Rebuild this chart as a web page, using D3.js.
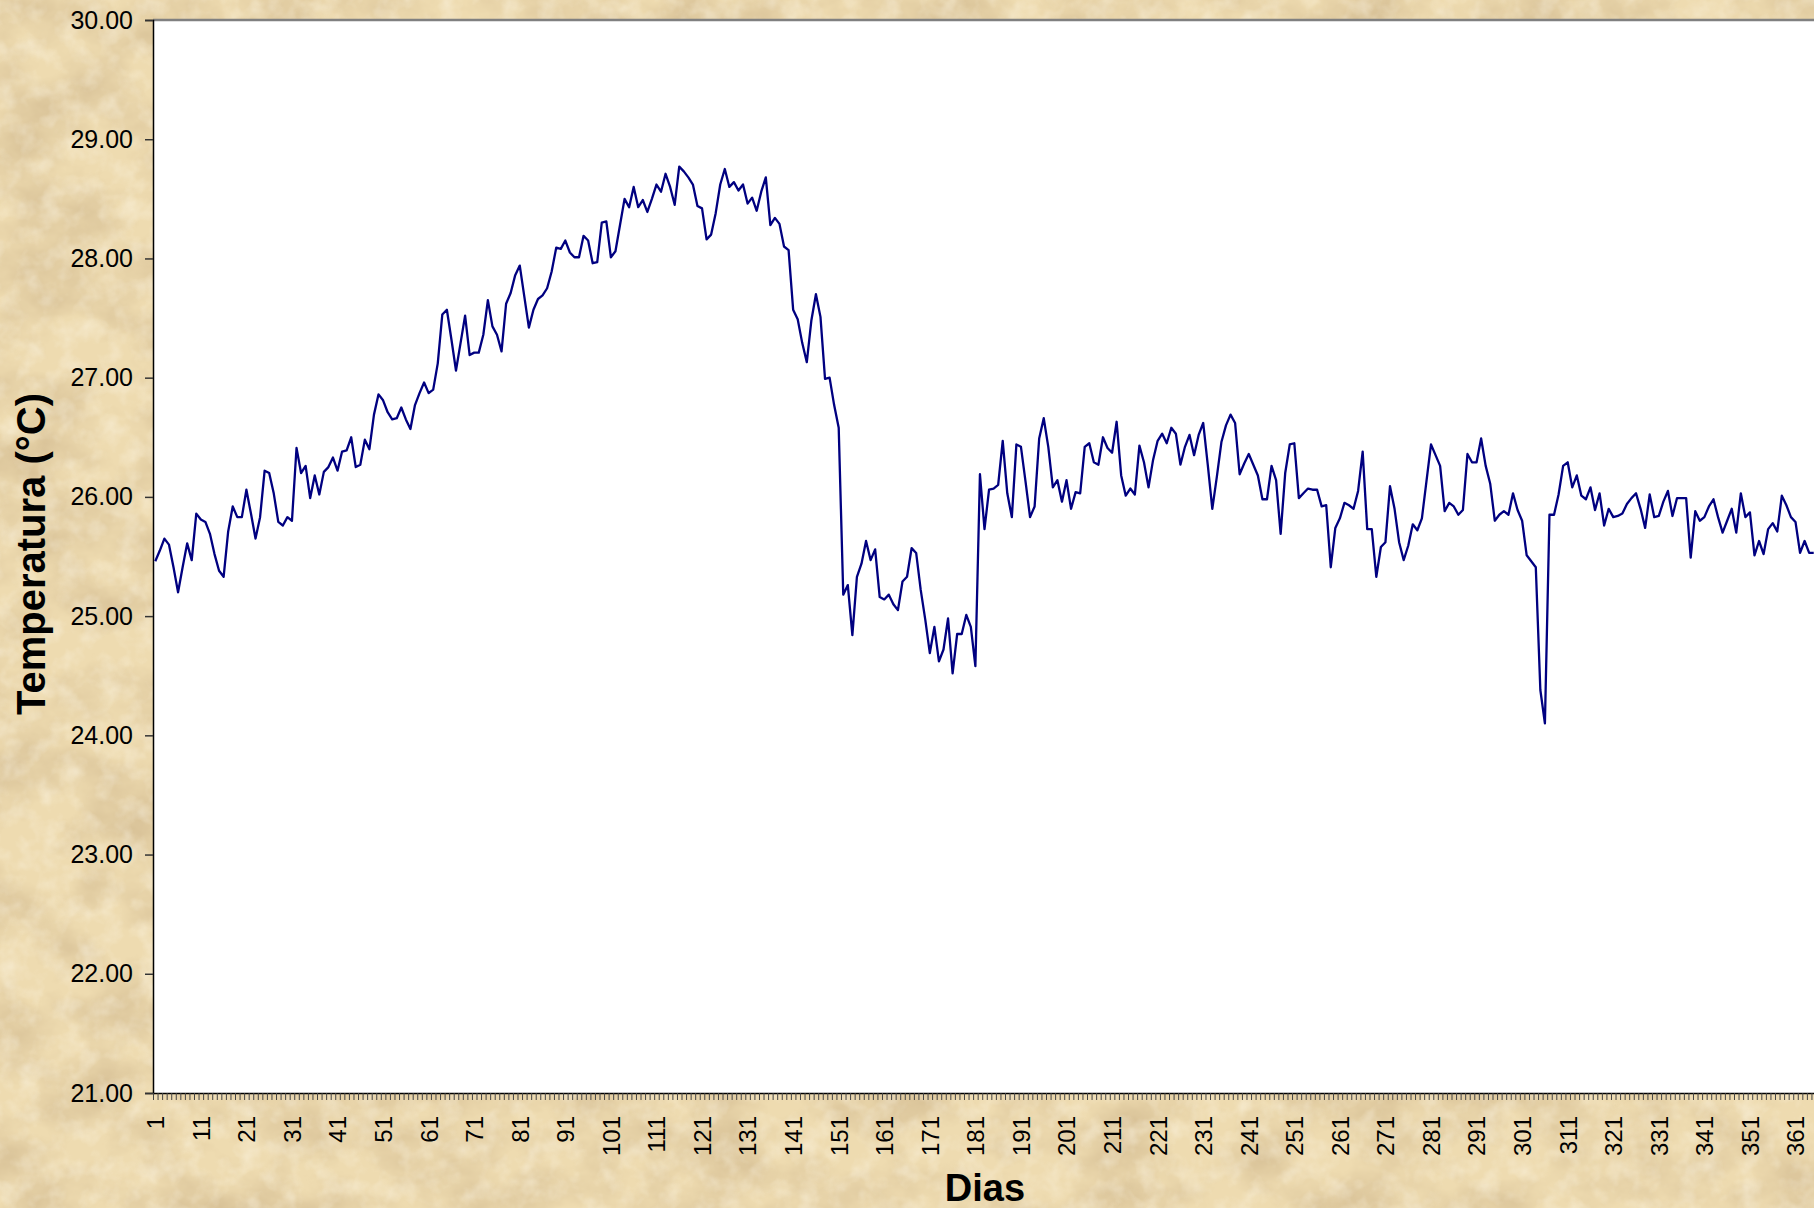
<!DOCTYPE html>
<html>
<head>
<meta charset="utf-8">
<script src="https://cdn.jsdelivr.net/npm/d3@7"></script>
<style>
  html, body { margin: 0; padding: 0; overflow: hidden; background: #ecd8ab; }
  svg { display: block; font-family: Arial, "Liberation Sans", sans-serif; }
</style>
</head>
<body>
<svg id="chart" width="1814" height="1208"></svg>
<script>
// daily mean temperature (°C)
const temperatures = [
  25.46, 25.55, 25.65, 25.60, 25.41, 25.20, 25.41, 25.61, 25.47, 25.86,
  25.81, 25.79, 25.69, 25.52, 25.38, 25.33, 25.71, 25.92, 25.83, 25.83,
  26.06, 25.86, 25.65, 25.83, 26.22, 26.20, 26.03, 25.79, 25.76, 25.83,
  25.80, 26.41, 26.20, 26.26, 25.99, 26.18, 26.02, 26.21, 26.25, 26.33,
  26.22, 26.38, 26.39, 26.50, 26.25, 26.27, 26.48, 26.40, 26.69, 26.86,
  26.81, 26.71, 26.65, 26.66, 26.75, 26.65, 26.57, 26.77, 26.87, 26.96,
  26.87, 26.90, 27.12, 27.53, 27.57, 27.32, 27.06, 27.29, 27.52, 27.19,
  27.21, 27.21, 27.36, 27.65, 27.43, 27.36, 27.22, 27.62, 27.71, 27.86,
  27.94, 27.68, 27.42, 27.57, 27.66, 27.69, 27.75, 27.89, 28.09, 28.08,
  28.15, 28.05, 28.01, 28.01, 28.19, 28.15, 27.96, 27.97, 28.30, 28.31,
  28.01, 28.06, 28.28, 28.50, 28.43, 28.60, 28.43, 28.49, 28.39, 28.50,
  28.62, 28.56, 28.71, 28.60, 28.45, 28.77, 28.73, 28.68, 28.62, 28.44,
  28.42, 28.16, 28.20, 28.38, 28.62, 28.75, 28.60, 28.64, 28.57, 28.62,
  28.46, 28.51, 28.40, 28.56, 28.68, 28.28, 28.34, 28.29, 28.10, 28.07,
  27.57, 27.49, 27.29, 27.13, 27.48, 27.70, 27.51, 26.99, 27.00, 26.77,
  26.58, 25.18, 25.26, 24.84, 25.33, 25.44, 25.63, 25.47, 25.56, 25.16,
  25.14, 25.18, 25.10, 25.05, 25.29, 25.33, 25.57, 25.53, 25.22, 24.97,
  24.69, 24.91, 24.62, 24.72, 24.98, 24.52, 24.85, 24.85, 25.01, 24.91,
  24.58, 26.19, 25.73, 26.06, 26.07, 26.10, 26.47, 26.03, 25.83, 26.44,
  26.42, 26.13, 25.83, 25.92, 26.49, 26.66, 26.42, 26.08, 26.14, 25.96,
  26.14, 25.90, 26.04, 26.03, 26.42, 26.45, 26.29, 26.27, 26.50, 26.41,
  26.37, 26.63, 26.18, 26.01, 26.07, 26.02, 26.43, 26.29, 26.08, 26.31,
  26.47, 26.53, 26.45, 26.58, 26.53, 26.27, 26.42, 26.52, 26.35, 26.52,
  26.62, 26.27, 25.90, 26.17, 26.46, 26.60, 26.69, 26.62, 26.19, 26.28,
  26.36, 26.27, 26.18, 25.98, 25.98, 26.26, 26.14, 25.69, 26.20, 26.44,
  26.45, 25.99, 26.03, 26.07, 26.06, 26.06, 25.92, 25.93, 25.41, 25.74,
  25.82, 25.95, 25.93, 25.90, 26.05, 26.38, 25.73, 25.73, 25.33, 25.58,
  25.62, 26.09, 25.90, 25.62, 25.47, 25.59, 25.77, 25.72, 25.82, 26.13,
  26.44, 26.35, 26.26, 25.88, 25.95, 25.92, 25.85, 25.89, 26.36, 26.29,
  26.29, 26.49, 26.26, 26.11, 25.80, 25.85, 25.88, 25.85, 26.03, 25.89,
  25.80, 25.51, 25.46, 25.41, 24.38, 24.10, 25.85, 25.85, 26.02, 26.26,
  26.29, 26.08, 26.18, 26.01, 25.98, 26.08, 25.89, 26.03, 25.76, 25.90,
  25.83, 25.84, 25.86, 25.94, 25.99, 26.03, 25.90, 25.74, 26.02, 25.83,
  25.84, 25.96, 26.05, 25.84, 25.99, 25.99, 25.99, 25.49, 25.88, 25.80,
  25.83, 25.92, 25.98, 25.83, 25.70, 25.80, 25.90, 25.70, 26.03, 25.83,
  25.87, 25.51, 25.63, 25.52, 25.73, 25.78, 25.71, 26.01, 25.93, 25.83,
  25.79, 25.53, 25.63, 25.53, 25.53
];

// one category per day
const days = d3.range(1, temperatures.length + 1);

const dayLabels = [1, 11, 21, 31, 41, 51, 61, 71, 81, 91, 101, 111, 121, 131, 141,
  151, 161, 171, 181, 191, 201, 211, 221, 231, 241, 251, 261, 271, 281, 291,
  301, 311, 321, 331, 341, 351, 361];

const tempTicks = [21, 22, 23, 24, 25, 26, 27, 28, 29, 30];

const svg = d3.select("#chart");
const width = +svg.attr("width");
const height = +svg.attr("height");

const plotLeft = 153, plotRight = 1816, plotTop = 20, plotBottom = 1093;

// parchment background
const defs = svg.append("defs");
const paper = defs.append("filter").attr("id", "paper")
  .attr("x", 0).attr("y", 0).attr("width", "100%").attr("height", "100%");
paper.append("feTurbulence")
  .attr("type", "fractalNoise")
  .attr("baseFrequency", "0.012 0.016")
  .attr("numOctaves", 5)
  .attr("seed", 7);
paper.append("feColorMatrix")
  .attr("type", "matrix")
  .attr("values", "0 0 0 0 0.60  0 0 0 0 0.45  0 0 0 0 0.25  1.3 0 0 0 -0.48");

const speck = defs.append("filter").attr("id", "speck")
  .attr("x", 0).attr("y", 0).attr("width", "100%").attr("height", "100%");
speck.append("feTurbulence")
  .attr("type", "fractalNoise")
  .attr("baseFrequency", "0.05")
  .attr("numOctaves", 3)
  .attr("seed", 2);
speck.append("feColorMatrix")
  .attr("type", "matrix")
  .attr("values", "0 0 0 0 1  0 0 0 0 0.97  0 0 0 0 0.88  -1.3 0 0 0 0.75");

svg.append("rect").attr("width", width).attr("height", height).attr("fill", "#eedbb0");
svg.append("rect").attr("width", width).attr("height", height).attr("filter", "url(#paper)");
svg.append("rect").attr("width", width).attr("height", height).attr("filter", "url(#speck)").attr("opacity", 0.6);

// scales
const x = d3.scaleLinear()
  .domain([0.5, days.length + 0.5])
  .range([plotLeft, plotRight]);

const y = d3.scaleLinear()
  .domain([21, 30])
  .range([plotBottom, plotTop]);

// plot area
svg.append("rect")
  .attr("x", plotLeft).attr("y", plotTop)
  .attr("width", plotRight - plotLeft).attr("height", plotBottom - plotTop)
  .attr("fill", "#ffffff");

svg.append("line")
  .attr("x1", plotLeft).attr("x2", plotRight)
  .attr("y1", plotTop).attr("y2", plotTop)
  .attr("stroke", "#808080").attr("stroke-width", 2.5);

// y axis
const yAxis = svg.append("g")
  .attr("transform", `translate(${plotLeft},0)`)
  .call(d3.axisLeft(y).tickValues(tempTicks).tickSize(8).tickPadding(12).tickFormat(d3.format(".2f")));
yAxis.select(".domain").attr("stroke", "#000").attr("stroke-width", 1.5);
yAxis.selectAll(".tick line").attr("stroke", "#333").attr("stroke-width", 1.5);
yAxis.selectAll("text").attr("font-size", 25).attr("fill", "#000");

// x axis: tick marks between categories
const xTicks = svg.append("g")
  .attr("transform", `translate(0,${plotBottom})`)
  .call(d3.axisBottom(x)
    .tickValues(d3.range(0, days.length + 1).map((d) => d + 0.5))
    .tickSize(7)
    .tickSizeOuter(0)
    .tickFormat(""));
xTicks.select(".domain").attr("stroke", "#000").attr("stroke-width", 1.5);
xTicks.selectAll(".tick line").attr("stroke", "#444").attr("stroke-width", 1);

// x axis labels
const xLabels = svg.append("g")
  .attr("transform", `translate(0,${plotBottom})`)
  .call(d3.axisBottom(x).tickValues(dayLabels).tickSize(0).tickFormat((d) => d));
xLabels.select(".domain").remove();
xLabels.selectAll("text")
  .attr("font-size", 24)
  .attr("fill", "#000")
  .attr("text-anchor", "end")
  .attr("y", 0)
  .attr("dy", "0.35em")
  .attr("transform", "translate(0,23) rotate(-90)");

// line
const line = d3.line()
  .x((d, i) => x(days[i]))
  .y((d) => y(d));

svg.append("path")
  .datum(temperatures)
  .attr("d", line)
  .attr("fill", "none")
  .attr("stroke", "#000080")
  .attr("stroke-width", 2.3)
  .attr("stroke-linejoin", "round");

// axis titles
svg.append("text")
  .attr("transform", "translate(45,554) rotate(-90)")
  .attr("text-anchor", "middle")
  .attr("font-size", 40)
  .attr("font-weight", "bold")
  .attr("fill", "#000")
  .text("Temperatura (°C)");

svg.append("text")
  .attr("x", 985)
  .attr("y", 1201)
  .attr("text-anchor", "middle")
  .attr("font-size", 38)
  .attr("font-weight", "bold")
  .attr("fill", "#000")
  .text("Dias");
</script>
</body>
</html>
